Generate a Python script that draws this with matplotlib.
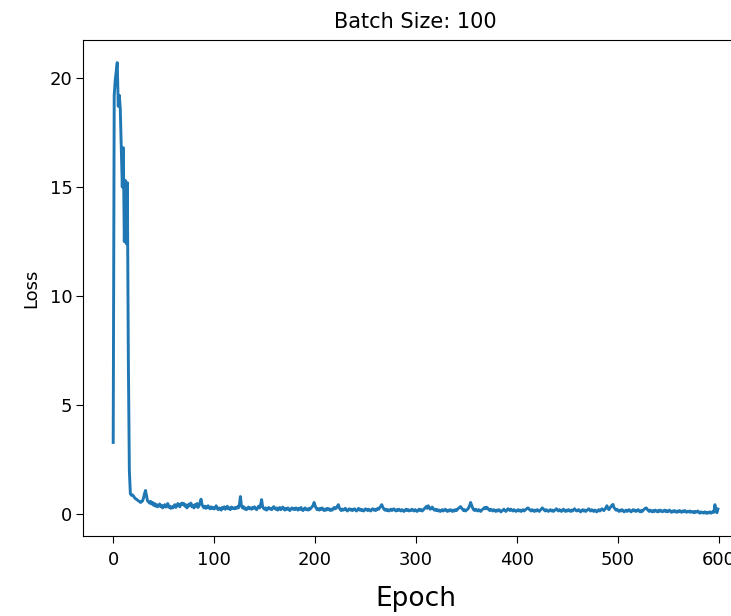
import matplotlib
matplotlib.use("Agg")
import matplotlib.pyplot as plt
import numpy as np

# loss per epoch
loss_start = [
    3.3, 19.2, 19.9, 20.3, 20.7, 18.7, 19.2, 18.6, 16.8, 15.0,
    16.8, 12.5, 15.3, 12.4, 15.2, 7.0, 2.0, 0.95, 0.88, 0.90,
]
loss_rest = [
    0.85, 0.78, 0.72, 0.70, 0.66, 0.62, 0.60, 0.55, 0.58, 0.62, 0.75, 0.95, 1.10, 0.85, 0.62, 0.58, 0.52, 0.60, 0.48, 0.55,
    0.42, 0.50, 0.38, 0.45, 0.35, 0.40, 0.48, 0.36, 0.42, 0.30, 0.38, 0.45, 0.34, 0.40, 0.50, 0.33, 0.38, 0.28, 0.35, 0.30,
    0.38, 0.45, 0.32, 0.40, 0.50, 0.42, 0.35, 0.48, 0.52, 0.45, 0.50, 0.38, 0.44, 0.30, 0.36, 0.48, 0.40, 0.52, 0.35, 0.42,
    0.30, 0.45, 0.38, 0.50, 0.32, 0.40, 0.55, 0.70, 0.45, 0.36, 0.30, 0.38, 0.28, 0.34, 0.40, 0.30, 0.26, 0.35, 0.28, 0.32,
    0.25, 0.30, 0.40, 0.28, 0.22, 0.30, 0.26, 0.20, 0.32, 0.28, 0.35, 0.24, 0.30, 0.38, 0.26, 0.30, 0.22, 0.34, 0.28, 0.30,
    0.26, 0.32, 0.28, 0.35, 0.30, 0.45, 0.82, 0.40, 0.30, 0.36, 0.25, 0.30, 0.22, 0.28, 0.34, 0.26, 0.30, 0.24, 0.32, 0.28,
    0.35, 0.28, 0.22, 0.30, 0.38, 0.30, 0.45, 0.68, 0.35, 0.28, 0.24, 0.30, 0.20, 0.26, 0.32, 0.25, 0.28, 0.22, 0.30, 0.36,
    0.28, 0.24, 0.30, 0.20, 0.26, 0.32, 0.22, 0.28, 0.34, 0.25, 0.20, 0.28, 0.24, 0.30, 0.22, 0.18, 0.26, 0.30, 0.24, 0.28,
    0.22, 0.30, 0.26, 0.20, 0.28, 0.24, 0.32, 0.22, 0.18, 0.26, 0.30, 0.22, 0.25, 0.20, 0.28, 0.24, 0.30, 0.35, 0.42, 0.55,
    0.40, 0.30, 0.22, 0.26, 0.20, 0.28, 0.24, 0.30, 0.22, 0.18, 0.25, 0.20, 0.28, 0.22, 0.26, 0.18, 0.24, 0.20, 0.28, 0.32,
    0.26, 0.30, 0.38, 0.45, 0.30, 0.22, 0.18, 0.25, 0.20, 0.24, 0.28, 0.20, 0.16, 0.22, 0.26, 0.20, 0.24, 0.18, 0.22, 0.26,
    0.20, 0.16, 0.22, 0.28, 0.20, 0.24, 0.18, 0.22, 0.16, 0.20, 0.26, 0.22, 0.18, 0.24, 0.20, 0.16, 0.22, 0.26, 0.20, 0.24,
    0.18, 0.22, 0.28, 0.24, 0.32, 0.38, 0.45, 0.34, 0.26, 0.20, 0.24, 0.18, 0.22, 0.16, 0.20, 0.24, 0.18, 0.22, 0.26, 0.20,
    0.16, 0.22, 0.18, 0.24, 0.20, 0.16, 0.22, 0.18, 0.14, 0.20, 0.24, 0.18, 0.22, 0.16, 0.20, 0.18, 0.24, 0.20, 0.16, 0.22,
    0.18, 0.14, 0.20, 0.24, 0.18, 0.22, 0.16, 0.20, 0.26, 0.30, 0.36, 0.28, 0.40, 0.32, 0.24, 0.28, 0.34, 0.26, 0.20, 0.24,
    0.18, 0.22, 0.16, 0.20, 0.14, 0.18, 0.22, 0.16, 0.20, 0.24, 0.18, 0.14, 0.20, 0.16, 0.22, 0.18, 0.14, 0.20, 0.16, 0.22,
    0.18, 0.24, 0.28, 0.32, 0.36, 0.30, 0.24, 0.18, 0.22, 0.16, 0.20, 0.24, 0.30, 0.40, 0.55, 0.42, 0.30, 0.22, 0.18, 0.24,
    0.20, 0.16, 0.22, 0.18, 0.14, 0.20, 0.24, 0.28, 0.32, 0.26, 0.33, 0.28, 0.22, 0.18, 0.24, 0.20, 0.16, 0.22, 0.18, 0.14,
    0.20, 0.16, 0.22, 0.18, 0.12, 0.16, 0.20, 0.24, 0.18, 0.14, 0.20, 0.26, 0.22, 0.18, 0.24, 0.20, 0.16, 0.22, 0.18, 0.14,
    0.18, 0.22, 0.16, 0.20, 0.14, 0.18, 0.22, 0.16, 0.20, 0.24, 0.28, 0.30, 0.24, 0.20, 0.16, 0.22, 0.18, 0.14, 0.20, 0.16,
    0.22, 0.18, 0.14, 0.20, 0.24, 0.30, 0.26, 0.20, 0.16, 0.22, 0.18, 0.14, 0.18, 0.22, 0.16, 0.20, 0.14, 0.18, 0.22, 0.26,
    0.20, 0.16, 0.22, 0.18, 0.14, 0.20, 0.24, 0.18, 0.14, 0.20, 0.16, 0.22, 0.18, 0.14, 0.20, 0.16, 0.22, 0.26, 0.20, 0.16,
    0.18, 0.22, 0.16, 0.12, 0.18, 0.22, 0.16, 0.20, 0.14, 0.18, 0.22, 0.26, 0.20, 0.16, 0.22, 0.18, 0.14, 0.20, 0.16, 0.12,
    0.18, 0.22, 0.16, 0.20, 0.26, 0.22, 0.18, 0.24, 0.30, 0.40, 0.28, 0.22, 0.30, 0.36, 0.42, 0.46, 0.32, 0.26, 0.20, 0.24,
    0.18, 0.14, 0.20, 0.16, 0.22, 0.18, 0.12, 0.16, 0.20, 0.14, 0.18, 0.22, 0.16, 0.12, 0.18, 0.22, 0.16, 0.20, 0.14, 0.18,
    0.22, 0.16, 0.12, 0.18, 0.14, 0.20, 0.24, 0.28, 0.30, 0.24, 0.18, 0.14, 0.20, 0.16, 0.12, 0.18, 0.14, 0.20, 0.16, 0.12,
    0.18, 0.14, 0.20, 0.16, 0.12, 0.16, 0.20, 0.14, 0.18, 0.12, 0.16, 0.20, 0.14, 0.10, 0.16, 0.12, 0.18, 0.14, 0.10, 0.16,
    0.12, 0.18, 0.14, 0.10, 0.16, 0.12, 0.18, 0.14, 0.10, 0.14, 0.12, 0.16, 0.10, 0.14, 0.12, 0.08, 0.14, 0.10, 0.12, 0.16,
    0.10, 0.06, 0.12, 0.08, 0.10, 0.06, 0.12, 0.08, 0.05, 0.10, 0.07, 0.12, 0.06, 0.09, 0.14, 0.10, 0.45, 0.20, 0.08, 0.25,
]
loss = np.array(loss_start + loss_rest)
epochs = np.arange(len(loss))

fig = plt.figure(figsize=(7.31, 6.16), dpi=100)
# the right edge of the axes runs past the picture, as in the reference
ax = fig.add_axes([0.1135, 0.13, 0.91, 0.805])
ax.plot(epochs, loss, color="#1f77b4", linewidth=2.1)

ax.set_title("Batch Size: 100", fontsize=15, pad=9)
ax.set_xlabel("Epoch", fontsize=19, labelpad=12)
ax.set_ylabel("Loss", fontsize=13, labelpad=7)
ax.tick_params(labelsize=13, length=5)
ax.tick_params(axis="x", pad=6)
ax.tick_params(axis="y", pad=2.5)

fig.savefig("out.png", dpi=100)
